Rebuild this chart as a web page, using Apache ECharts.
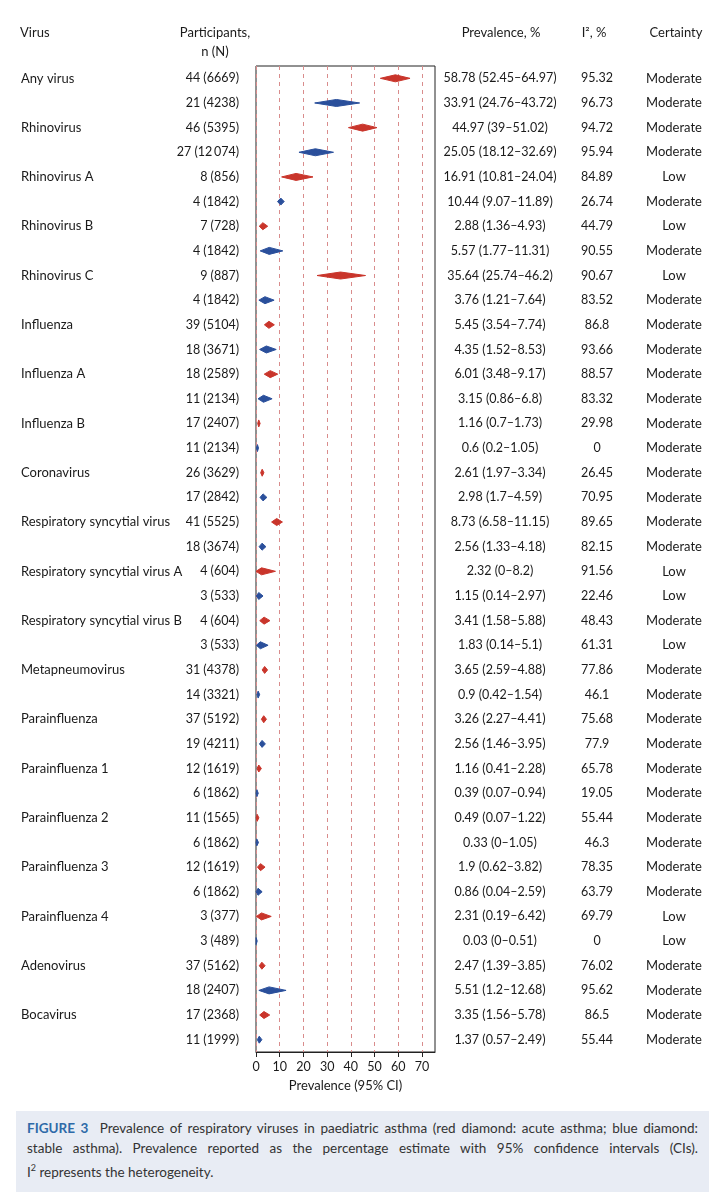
<!DOCTYPE html>
<html>
<head>
<meta charset="utf-8">
<script src="https://cdn.jsdelivr.net/npm/echarts@6/dist/echarts.min.js"></script>
<style>
  body { margin: 0; background: #fff; }
  #chart { position: absolute; left: 0; top: 0; width: 724px; height: 1100px; }
  #caption {
    position: absolute; left: 16px; top: 1111px; width: 671px;
    padding: 8px 11px 10px 11px; background: #e8ecf4;
    font-family: Lato, 'Noto Sans', sans-serif; font-size: 13.5px; line-height: 19.5px;
    color: #333;
  }
  #caption div { white-space: nowrap; }
  #caption .j { text-align: justify; text-align-last: justify; }
  #caption b { color: #2e6aa8; }
</style>
</head>
<body>
<div id="chart"></div>
<div id="caption">
  <div class="j"><b>FIGURE 3</b>&nbsp; Prevalence of respiratory viruses in paediatric asthma (red diamond: acute asthma; blue diamond:</div>
  <div class="j">stable asthma). Prevalence reported as the percentage estimate with 95% confidence intervals (CIs).</div>
  <div>I<sup style="font-size:9px">2</sup> represents the heterogeneity.</div>
</div>
<script>
// one row per line of the plot; acute (red) row followed by stable (blue) row
const virusNames = [
  'Any virus', '', 'Rhinovirus', '', 'Rhinovirus A', '', 'Rhinovirus B', '',
  'Rhinovirus C', '', 'Influenza', '', 'Influenza A', '', 'Influenza B', '',
  'Coronavirus', '', 'Respiratory syncytial virus', '',
  'Respiratory syncytial virus A', '', 'Respiratory syncytial virus B', '',
  'Metapneumovirus', '', 'Parainfluenza', '', 'Parainfluenza 1', '',
  'Parainfluenza 2', '', 'Parainfluenza 3', '', 'Parainfluenza 4', '',
  'Adenovirus', '', 'Bocavirus', ''
];
const participants = [
  '44 (6669)', '21 (4238)', '46 (5395)', '27 (12\u2009074)', '8 (856)', '4 (1842)',
  '7 (728)', '4 (1842)', '9 (887)', '4 (1842)', '39 (5104)', '18 (3671)',
  '18 (2589)', '11 (2134)', '17 (2407)', '11 (2134)', '26 (3629)', '17 (2842)',
  '41 (5525)', '18 (3674)', '4 (604)', '3 (533)', '4 (604)', '3 (533)',
  '31 (4378)', '14 (3321)', '37 (5192)', '19 (4211)', '12 (1619)', '6 (1862)',
  '11 (1565)', '6 (1862)', '12 (1619)', '6 (1862)', '3 (377)', '3 (489)',
  '37 (5162)', '18 (2407)', '17 (2368)', '11 (1999)'
];
const estimate = [
  58.78, 33.91, 44.97, 25.05, 16.91, 10.44, 2.88, 5.57, 35.64, 3.76,
  5.45, 4.35, 6.01, 3.15, 1.16, 0.6, 2.61, 2.98, 8.73, 2.56,
  2.32, 1.15, 3.41, 1.83, 3.65, 0.9, 3.26, 2.56, 1.16, 0.39,
  0.49, 0.33, 1.9, 0.86, 2.31, 0.03, 2.47, 5.51, 3.35, 1.37
];
const ciLow = [
  52.45, 24.76, 39, 18.12, 10.81, 9.07, 1.36, 1.77, 25.74, 1.21,
  3.54, 1.52, 3.48, 0.86, 0.7, 0.2, 1.97, 1.7, 6.58, 1.33,
  0, 0.14, 1.58, 0.14, 2.59, 0.42, 2.27, 1.46, 0.41, 0.07,
  0.07, 0, 0.62, 0.04, 0.19, 0, 1.39, 1.2, 1.56, 0.57
];
const ciHigh = [
  64.97, 43.72, 51.02, 32.69, 24.04, 11.89, 4.93, 11.31, 46.2, 7.64,
  7.74, 8.53, 9.17, 6.8, 1.73, 1.05, 3.34, 4.59, 11.15, 4.18,
  8.2, 2.97, 5.88, 5.1, 4.88, 1.54, 4.41, 3.95, 2.28, 0.94,
  1.22, 1.05, 3.82, 2.59, 6.42, 0.51, 3.85, 12.68, 5.78, 2.49
];
const iSquared = [
  '95.32', '96.73', '94.72', '95.94', '84.89', '26.74', '44.79', '90.55', '90.67', '83.52',
  '86.8', '93.66', '88.57', '83.32', '29.98', '0', '26.45', '70.95', '89.65', '82.15',
  '91.56', '22.46', '48.43', '61.31', '77.86', '46.1', '75.68', '77.9', '65.78', '19.05',
  '55.44', '46.3', '78.35', '63.79', '69.79', '0', '76.02', '95.62', '86.5', '55.44'
];
const certainty = [
  'Moderate', 'Moderate', 'Moderate', 'Moderate', 'Low', 'Moderate', 'Low', 'Moderate', 'Low', 'Moderate',
  'Moderate', 'Moderate', 'Moderate', 'Moderate', 'Moderate', 'Moderate', 'Moderate', 'Moderate', 'Moderate', 'Moderate',
  'Low', 'Low', 'Moderate', 'Low', 'Moderate', 'Moderate', 'Moderate', 'Moderate', 'Moderate', 'Moderate',
  'Moderate', 'Moderate', 'Moderate', 'Moderate', 'Low', 'Low', 'Moderate', 'Moderate', 'Moderate', 'Moderate'
];
const xTicks = [0, 10, 20, 30, 40, 50, 60, 70];

const FONT = 'Lato, "Noto Sans", sans-serif';
const TEXT = '#1a1a1a';
const RED = '#c9352b';
const BLUE = '#2a4f9b';

const rows = estimate.map((_, i) => String(i));
const prevalenceText = estimate.map((e, i) => `${e} (${ciLow[i]}\u2013${ciHigh[i]})`);

const chart = echarts.init(document.getElementById('chart'));

function labelAxis(position, texts, align, margin, size) {
  return {
    type: 'category',
    data: rows,
    inverse: true,
    position: position,
    gridIndex: 0,
    axisLine: { show: false },
    axisTick: { show: false },
    splitLine: { show: false },
    axisLabel: {
      interval: 0,
      align: align,
      margin: margin,
      fontFamily: FONT,
      fontSize: size,
      color: TEXT,
      formatter: (v) => texts[+v]
    }
  };
}

const headerStyle = { fontFamily: FONT, fontSize: 13, fill: TEXT, align: 'center', verticalAlign: 'middle' };

chart.setOption({
  animation: false,
  grid: { left: 256, right: 289, top: 66, bottom: 48, show: true, borderColor: '#222', borderWidth: 1, outerBoundsMode: 'none' },
  xAxis: {
    type: 'value',
    min: 0,
    max: 75.5,
    interval: 10,
    name: 'Prevalence (95% CI)',
    nameLocation: 'middle',
    nameGap: 27,
    nameTextStyle: { fontFamily: FONT, fontSize: 13, color: TEXT },
    axisLine: { show: true, lineStyle: { color: '#222', width: 1 } },
    axisTick: { show: true, length: 5, customValues: xTicks, lineStyle: { color: '#222' } },
    axisLabel: { customValues: xTicks, margin: 8, fontFamily: FONT, fontSize: 12.5, color: TEXT },
    splitLine: { show: true, lineStyle: { color: '#d98c8c', type: [4, 4], width: 1 } }
  },
  yAxis: [
    labelAxis('left', virusNames, 'left', 235, 13),
    labelAxis('left', participants, 'right', 17, 12.5),
    labelAxis('right', prevalenceText, 'center', 65, 12.5),
    labelAxis('right', iSquared, 'center', 162, 12.5),
    labelAxis('right', certainty, 'center', 239, 13)
  ],
  graphic: [
    { type: 'text', x: 20, y: 33, style: Object.assign({}, headerStyle, { text: 'Virus', align: 'left' }) },
    { type: 'text', x: 215, y: 33, style: Object.assign({}, headerStyle, { text: 'Participants,' }) },
    { type: 'text', x: 215, y: 52, style: Object.assign({}, headerStyle, { text: 'n (N)' }) },
    { type: 'text', x: 501, y: 33, style: Object.assign({}, headerStyle, { text: 'Prevalence, %' }) },
    { type: 'text', x: 594, y: 33, style: Object.assign({}, headerStyle, { text: 'I\u00b2, %' }) },
    { type: 'text', x: 676, y: 33, style: Object.assign({}, headerStyle, { text: 'Certainty' }) }
  ],
  series: [{
    type: 'custom',
    xAxisIndex: 0,
    yAxisIndex: 0,
    clip: false,
    data: estimate.map((e, i) => [i, ciLow[i], e, ciHigh[i]]),
    encode: { x: [1, 2, 3], y: 0 },
    renderItem: (params, api) => {
      const row = api.value(0);
      const lo = api.coord([api.value(1), row]);
      const mid = api.coord([api.value(2), row]);
      const hi = api.coord([api.value(3), row]);
      const h = 3.5;
      const color = row % 2 === 0 ? RED : BLUE;
      return {
        type: 'polygon',
        shape: { points: [[lo[0], lo[1]], [mid[0], mid[1] - h], [hi[0], hi[1]], [mid[0], mid[1] + h]] },
        style: { fill: color, stroke: color, lineWidth: 1 }
      };
    }
  }]
});
</script>
</body>
</html>
